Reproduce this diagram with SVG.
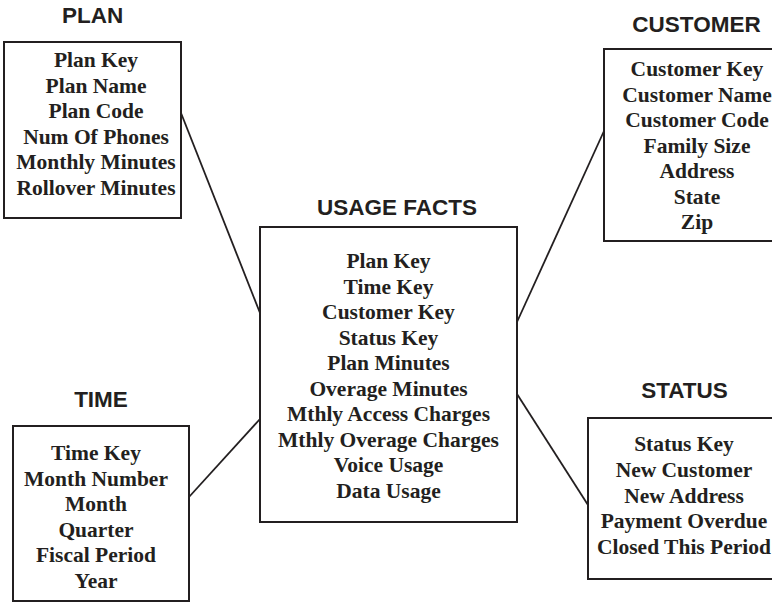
<svg xmlns="http://www.w3.org/2000/svg" width="772" height="603" viewBox="0 0 772 603">
<style>
.box{fill:#fff;stroke:#231f20;stroke-width:2}
.ttl{font-family:"Liberation Sans",Arial,sans-serif;font-weight:bold;font-size:22.5px;fill:#231f20;text-anchor:middle}
.fld{font-family:"Liberation Serif","Times New Roman",serif;font-weight:bold;font-size:21.5px;fill:#231f20;text-anchor:middle}
.con{stroke:#231f20;stroke-width:1.8;fill:none}
</style>
<rect width="772" height="603" fill="#fff"/>
<g id="connectors">
<line class="con" x1="181" y1="113" x2="260" y2="313"/>
<line class="con" x1="604" y1="131" x2="517" y2="322"/>
<line class="con" x1="189" y1="497" x2="260" y2="419"/>
<line class="con" x1="517" y1="394" x2="588" y2="505"/>
</g>
<g id="plan">
<text class="ttl" x="92.5" y="23">PLAN</text>
<rect class="box" x="4" y="42" width="177" height="176"/>
<text class="fld" x="96" y="67">Plan Key</text>
<text class="fld" x="96" y="92.5">Plan Name</text>
<text class="fld" x="96" y="118">Plan Code</text>
<text class="fld" x="96" y="143.5">Num Of Phones</text>
<text class="fld" x="96" y="169">Monthly Minutes</text>
<text class="fld" x="96" y="194.5">Rollover Minutes</text>
</g>
<g id="customer">
<text class="ttl" x="696.5" y="31.5">CUSTOMER</text>
<rect class="box" x="604" y="49" width="190" height="192"/>
<text class="fld" x="697" y="76">Customer Key</text>
<text class="fld" x="697" y="101.5">Customer Name</text>
<text class="fld" x="697" y="127">Customer Code</text>
<text class="fld" x="697" y="152.5">Family Size</text>
<text class="fld" x="697" y="178">Address</text>
<text class="fld" x="697" y="203.5">State</text>
<text class="fld" x="697" y="229">Zip</text>
</g>
<g id="usage-facts">
<text class="ttl" x="397" y="215">USAGE FACTS</text>
<rect class="box" x="260" y="227" width="257" height="295"/>
<text class="fld" x="388.5" y="268">Plan Key</text>
<text class="fld" x="388.5" y="293.5">Time Key</text>
<text class="fld" x="388.5" y="319">Customer Key</text>
<text class="fld" x="388.5" y="344.5">Status Key</text>
<text class="fld" x="388.5" y="370">Plan Minutes</text>
<text class="fld" x="388.5" y="395.5">Overage Minutes</text>
<text class="fld" x="388.5" y="421">Mthly Access Charges</text>
<text class="fld" x="388.5" y="446.5">Mthly Overage Charges</text>
<text class="fld" x="388.5" y="472">Voice Usage</text>
<text class="fld" x="388.5" y="497.5">Data Usage</text>
</g>
<g id="time">
<text class="ttl" x="101" y="407">TIME</text>
<rect class="box" x="13" y="426" width="176" height="175"/>
<text class="fld" x="96" y="460">Time Key</text>
<text class="fld" x="96" y="485.5">Month Number</text>
<text class="fld" x="96" y="511">Month</text>
<text class="fld" x="96" y="536.5">Quarter</text>
<text class="fld" x="96" y="562">Fiscal Period</text>
<text class="fld" x="96" y="587.5">Year</text>
</g>
<g id="status">
<text class="ttl" x="684.5" y="397.5">STATUS</text>
<rect class="box" x="588" y="418" width="200" height="161"/>
<text class="fld" x="684" y="451">Status Key</text>
<text class="fld" x="684" y="477">New Customer</text>
<text class="fld" x="684" y="502.5">New Address</text>
<text class="fld" x="684" y="528">Payment Overdue</text>
<text class="fld" x="684" y="554">Closed This Period</text>
</g>
</svg>
